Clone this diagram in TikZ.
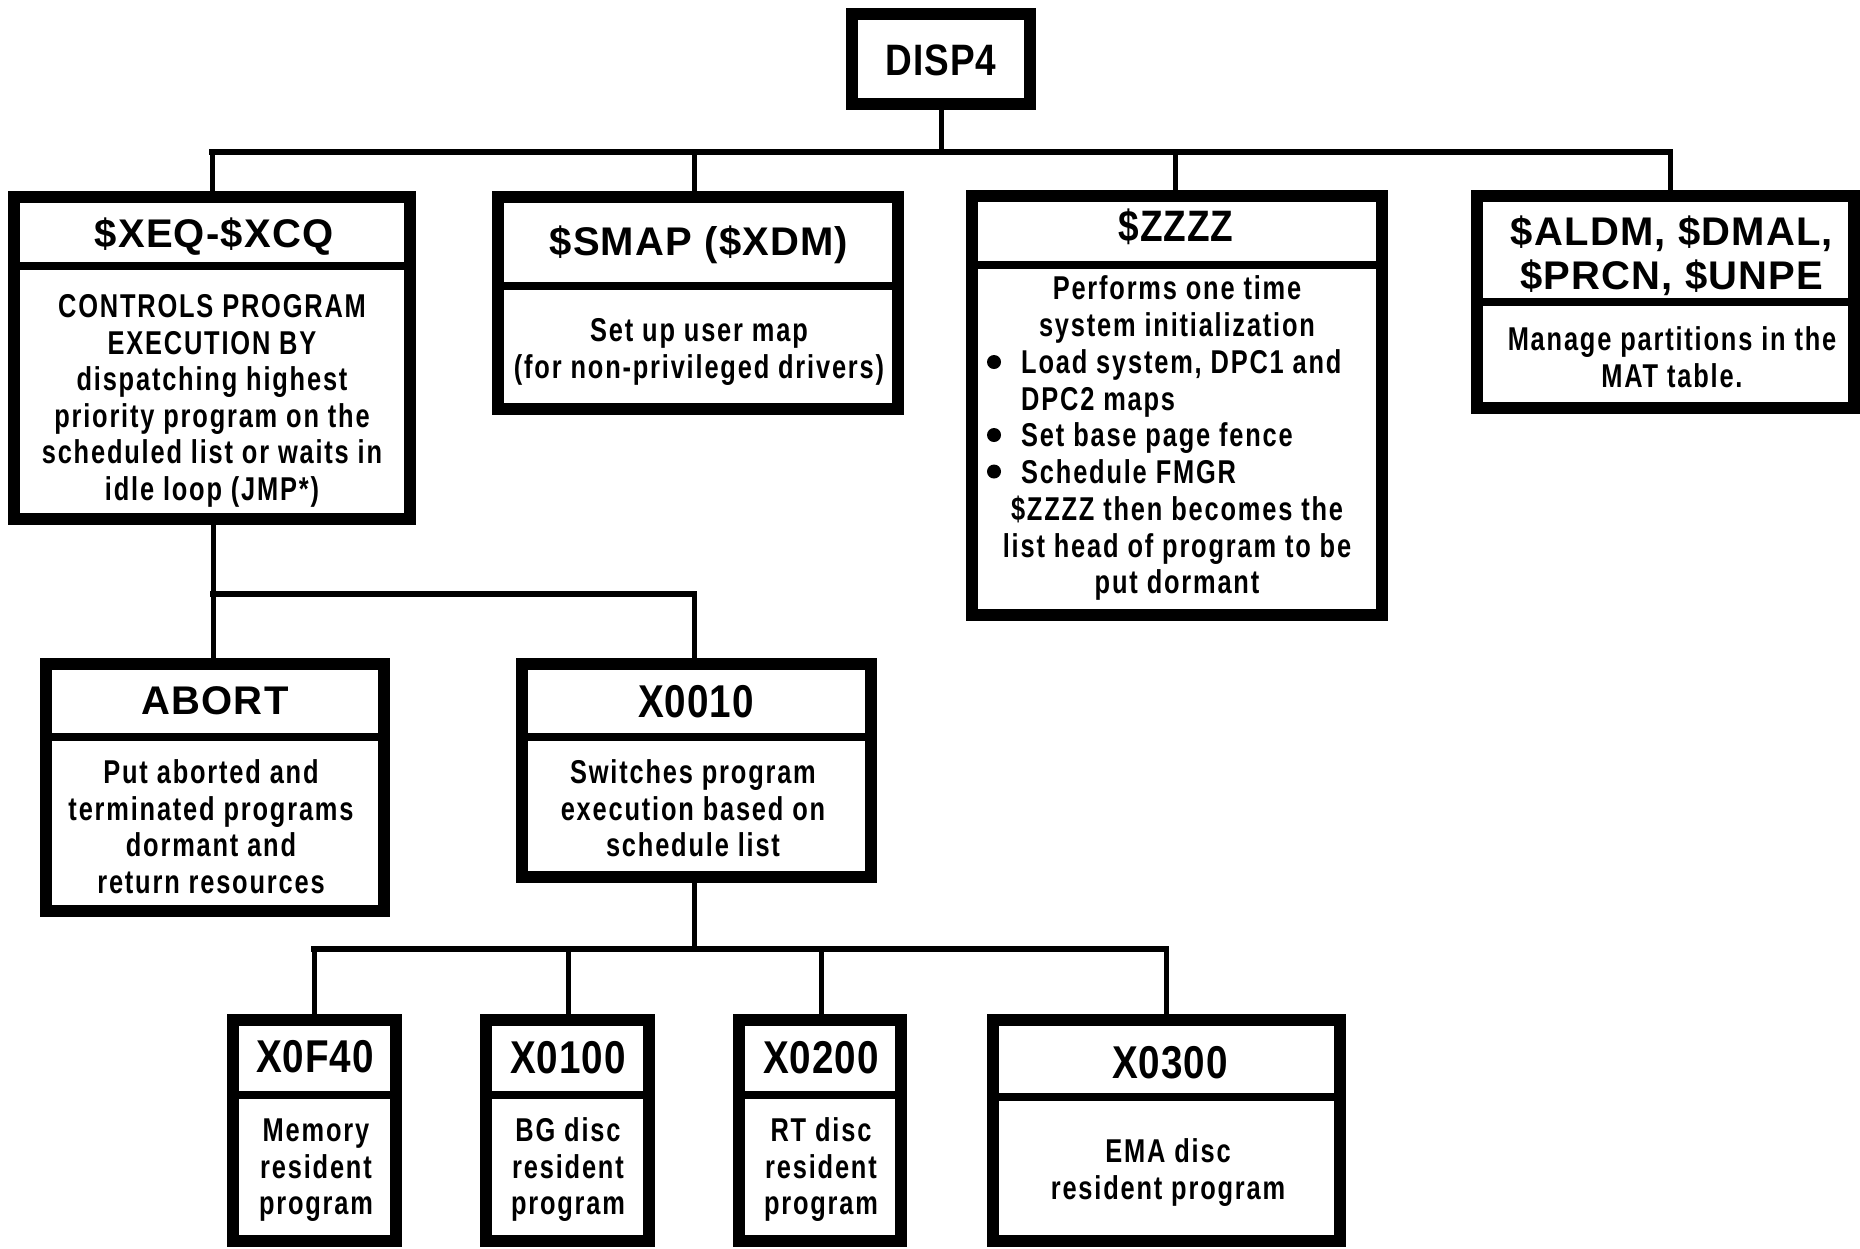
\documentclass[tikz,border=0pt]{standalone}
\usepackage{fontspec}
\setmainfont{Liberation Sans}
% wide bold face for most titles, condensed bold faces for names and descriptions
\newfontfamily\headfont[LetterSpace=3]{Liberation Sans}
\newfontfamily\condhead[FakeStretch=0.84,LetterSpace=2]{Liberation Sans}
\newfontfamily\condbody[FakeStretch=0.77,LetterSpace=5.5]{Liberation Sans}

\tikzset{
  chartframe/.style={draw, line width=12pt, inner sep=0pt, fill=white},
  divider/.style={line width=8pt},
  conn/.style={line width=5pt},
  bus/.style={line width=6pt, line cap=rect},
  headtxt/.style={font=\headfont\bfseries\fontsize{40}{44}\selectfont, inner sep=0pt, anchor=base},
  condtxt/.style={font=\condhead\bfseries\fontsize{#1}{#1}\selectfont, inner sep=0pt, anchor=base},
  condtxt/.default=44,
  bodytxt/.style={font=\condbody\bfseries\fontsize{33}{36.5}\selectfont, align=center, inner sep=0pt, anchor=north},
}

% box with a heading compartment: name, left, top, right, bottom (outer edges), divider y
\newcommand\chartbox[6]{%
  \node[chartframe, minimum width={#4-#2-12}, minimum height={#5-#3-12}] (#1) at ({(#2+#4)/2},{(#3+#5)/2}) {};
  \draw[divider] ({#2+6},#6) -- ({#4-6},#6);
}

\begin{document}
\begin{tikzpicture}[x=1pt,y=-1pt]
\useasboundingbox (0,0) rectangle (1860,1248);
\fill[white] (0,0) rectangle (1860,1248);

% ---------- junction points of the tree ----------
\coordinate (t0) at (941,152);
\coordinate (t1) at (212,152);
\coordinate (t2) at (694,152);
\coordinate (t3) at (1175,152);
\coordinate (t4) at (1670,152);
\coordinate (u1) at (213,594);
\coordinate (u2) at (694,594);
\coordinate (v0) at (694,949);
\coordinate (v1) at (314,949);
\coordinate (v2) at (568,949);
\coordinate (v3) at (821,949);
\coordinate (v4) at (1166,949);

% ---------- root ----------
\node[chartframe, minimum width=178, minimum height=90] (disp) at (941,59) {};
\node[condtxt] (disp-t) at (941,75) {DISP4};

% ---------- first level ----------
\chartbox{xeq}{8}{191}{416}{525}{266}
\node[headtxt] (xeq-t) at (214,247) {\$XEQ-\$XCQ};
\node[bodytxt] (xeq-b) at (212,292) {\strut CONTROLS PROGRAM\\EXECUTION BY\\dispatching highest\\priority program on the\\scheduled list or waits in\\idle loop (JMP*)};

\chartbox{smap}{492}{191}{904}{415}{286}
\node[headtxt] (smap-t) at (699,255) {\$SMAP (\$XDM)};
\node[bodytxt] (smap-b) at (699,316) {\strut Set up user map\\(for non-privileged drivers)};

\chartbox{zzzz}{966}{190}{1388}{621}{265}
\node[condtxt] (zzzz-t) at (1176,241) {\$ZZZZ};
\node[bodytxt] (zzzz-a) at (1177,274) {\strut Performs one time\\system initialization};
\node[bodytxt, align=left, anchor=north west] (zzzz-l) at (1021,348) {\strut Load system, DPC1 and\\DPC2 maps\\Set base page fence\\Schedule FMGR};
\fill (994,362) circle (7pt);
\fill (994,435) circle (7pt);
\fill (994,471.5) circle (7pt);
\node[bodytxt] (zzzz-c) at (1177,495) {\strut \$ZZZZ then becomes the\\list head of program to be\\put dormant};

\chartbox{aldm}{1471}{190}{1860}{414}{302}
\node[headtxt, align=center, anchor=north] (aldm-t) at (1672,214) {\strut\$ALDM, \$DMAL,\\\$PRCN, \$UNPE};
\node[bodytxt] (aldm-b) at (1672,325) {\strut Manage partitions in the\\MAT table.};

% ---------- second level ----------
\chartbox{abort}{40}{658}{390}{917}{737}
\node[headtxt] (abort-t) at (215,714) {ABORT};
\node[bodytxt] (abort-b) at (211,758) {\strut Put aborted and\\terminated programs\\dormant and\\return resources};

\chartbox{xten}{516}{658}{877}{883}{737}
\node[condtxt=46] (xten-t) at (696,717) {X0010};
\node[bodytxt] (xten-b) at (693,758) {\strut Switches program\\execution based on\\schedule list};

% ---------- third level ----------
\chartbox{xf40}{227}{1014}{402}{1247}{1095}
\node[condtxt=46] (xf40-t) at (315,1072) {X0F40};
\node[bodytxt] (xf40-b) at (316,1116) {\strut Memory\\resident\\program};

\chartbox{xone}{480}{1014}{655}{1247}{1095}
\node[condtxt=46] (xone-t) at (568,1073) {X0100};
\node[bodytxt] (xone-b) at (568,1116) {\strut BG disc\\resident\\program};

\chartbox{xtwo}{733}{1014}{907}{1247}{1095}
\node[condtxt=46] (xtwo-t) at (821,1073) {X0200};
\node[bodytxt] (xtwo-b) at (821,1116) {\strut RT disc\\resident\\program};

\chartbox{xthr}{987}{1014}{1346}{1247}{1097}
\node[condtxt=46] (xthr-t) at (1170,1078) {X0300};
\node[bodytxt] (xthr-b) at (1168,1137) {\strut EMA disc\\resident program};

% ---------- connectors ----------
\draw[conn] (disp) -- (t0);
\draw[bus] (t1) -- (t4);
\draw[conn] (t1) -- (t1 |- xeq.north);
\draw[conn] (t2) -- (t2 |- smap.north);
\draw[conn] (t3) -- (t3 |- zzzz.north);
\draw[conn] (t4) -- (t4 |- aldm.north);

\draw[conn] (u1 |- xeq.south) -- (u1);
\draw[bus] (u1) -- (u2);
\draw[conn] (u1) -- (u1 |- abort.north);
\draw[conn] (u2) -- (u2 |- xten.north);

\draw[conn] (v0 |- xten.south) -- (v0);
\draw[bus] (v1) -- (v4);
\draw[conn] (v1) -- (v1 |- xf40.north);
\draw[conn] (v2) -- (v2 |- xone.north);
\draw[conn] (v3) -- (v3 |- xtwo.north);
\draw[conn] (v4) -- (v4 |- xthr.north);
\end{tikzpicture}
\end{document}
